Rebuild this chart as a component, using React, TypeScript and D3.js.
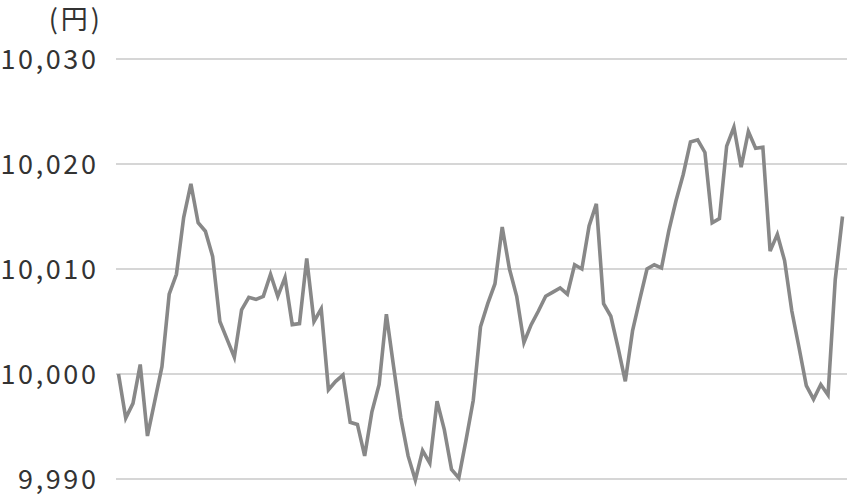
import React, { useEffect, useRef } from 'react';
import * as d3 from 'd3';

const prices = [
  10000.0, 9995.8, 9997.2, 10000.9, 9994.1, 9997.4, 10000.7, 10007.6, 10009.5, 10014.9,
  10018.1, 10014.4, 10013.6, 10011.2, 10005.0, 10003.3, 10001.6, 10006.1, 10007.3, 10007.1,
  10007.4, 10009.5, 10007.4, 10009.2, 10004.7, 10004.8, 10011.0, 10005.0, 10006.2, 9998.5,
  9999.3, 9999.9, 9995.4, 9995.2, 9992.2, 9996.4, 9999.0, 10005.7, 10000.7, 9995.8,
  9992.2, 9989.9, 9992.7, 9991.5, 9997.4, 9994.7, 9990.9, 9990.1, 9993.7, 9997.5,
  10004.5, 10006.7, 10008.6, 10014.0, 10010.0, 10007.4, 10003.0, 10004.7, 10006.0, 10007.4,
  10007.8, 10008.2, 10007.6, 10010.4, 10010.0, 10014.1, 10016.2, 10006.7, 10005.5, 10002.5,
  9999.3, 10004.1, 10007.1, 10010.0, 10010.4, 10010.1, 10013.6, 10016.5, 10019.0, 10022.1,
  10022.3, 10021.1, 10014.4, 10014.8, 10021.7, 10023.5, 10019.7, 10023.1, 10021.5, 10021.6,
  10011.7, 10013.3, 10010.8, 10006.0, 10002.5, 9998.9, 9997.6, 9999.0, 9998.0, 10009.0,
  10015.0,
];

const yTicks = [9990, 10000, 10010, 10020, 10030];
const unitLabel = '(円)';

const width = 847;
const height = 494;

const App: React.FC = () => {
  const svgRef = useRef<SVGSVGElement>(null);

  useEffect(() => {
    if (!svgRef.current) return;
    document.body.style.margin = '0';

    const svg = d3.select(svgRef.current);
    svg.selectAll('*').remove();

    const font = '"Noto Sans CJK JP", "Noto Sans", sans-serif';

    const x = d3.scaleLinear()
      .domain([0, prices.length - 1])
      .range([118.5, 842.5]);

    const y = d3.scaleLinear()
      .domain([9990, 10030])
      .range([479, 59]);

    // Gridlines
    svg.append('g')
      .selectAll('line')
      .data(yTicks)
      .enter().append('line')
      .attr('x1', 116)
      .attr('x2', width)
      .attr('y1', d => y(d))
      .attr('y2', d => y(d))
      .attr('stroke', '#c9c9c9')
      .attr('stroke-width', 1.5);

    // Tick labels (letter-spaced like the original)
    svg.append('g')
      .selectAll('text')
      .data(yTicks)
      .enter().append('text')
      .attr('x', 98.5)
      .attr('y', d => y(d) - 2)
      .attr('dominant-baseline', 'central')
      .style('text-anchor', 'end')
      .style('font-family', font)
      .style('font-size', '27px')
      .style('letter-spacing', '2.6px')
      .style('fill', '#333')
      .text(d => d3.format(',')(d));

    svg.append('text')
      .attr('x', 103)
      .attr('y', 17)
      .attr('dominant-baseline', 'central')
      .style('text-anchor', 'end')
      .style('font-family', font)
      .style('font-size', '27px')
      .style('letter-spacing', '3px')
      .style('fill', '#333')
      .text(unitLabel);

    const line = d3.line<number>()
      .x((_, i) => x(i))
      .y(d => y(d));

    svg.append('path')
      .datum(prices)
      .attr('d', line)
      .attr('fill', 'none')
      .attr('stroke', '#888888')
      .attr('stroke-width', 3.6);
  }, []);

  return (
    <svg ref={svgRef} width={width} height={height} style={{ display: 'block', background: 'white' }}></svg>
  );
};

export default App;
